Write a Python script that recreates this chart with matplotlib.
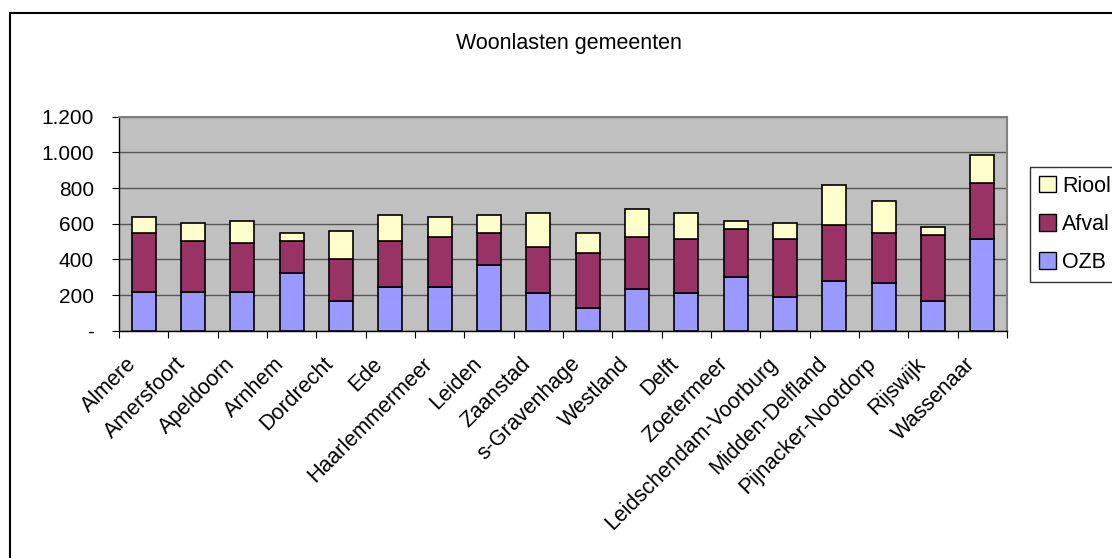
import matplotlib
matplotlib.use("Agg")
import matplotlib.pyplot as plt
from matplotlib.patches import Rectangle, Patch
from matplotlib.ticker import FixedLocator
from matplotlib.transforms import ScaledTranslation
import numpy as np

plt.rcParams['font.family'] = ['Liberation Sans', 'DejaVu Sans']

gemeenten = ["Almere", "Amersfoort", "Apeldoorn", "Arnhem", "Dordrecht", "Ede",
             "Haarlemmermeer", "Leiden", "Zaanstad", "s-Gravenhage", "Westland",
             "Delft", "Zoetermeer", "Leidschendam-Voorburg", "Midden-Delfland",
             "Pijnacker-Nootdorp", "Rijswijk", "Wassenaar"]
ozb = [219, 219, 219, 325, 167, 243, 243, 370, 210, 129, 232, 210, 299, 191, 279, 267, 167, 513]
afval = [331, 284, 271, 178, 233, 260, 284, 176, 261, 305, 295, 303, 270, 325, 314, 281, 368, 314]
riool = [89, 103, 127, 47, 159, 146, 112, 103, 187, 116, 156, 145, 46, 88, 224, 181, 47, 157]

y_ticks = [0, 200, 400, 600, 800, 1000, 1200]
y_labels = ["-", "200", "400", "600", "800", "1.000", "1.200"]
title = "Woonlasten gemeenten"

W, H = 1112, 558
fig = plt.figure(figsize=(W / 100, H / 100), dpi=100)
fig.patch.set_facecolor("white")

ax = fig.add_axes([119 / W, 1 - 330.7 / H, (1007 - 119) / W, (330.7 - 116.7) / H])
ax.set_facecolor("#C0C0C0")

x = np.arange(len(gemeenten))
bw = 0.48
ozb_a = np.array(ozb)
afv_a = np.array(afval)
rio_a = np.array(riool)
ax.bar(x, ozb_a, bw, color="#9999FF", edgecolor="black", linewidth=1.2, zorder=3, label="OZB")
ax.bar(x, afv_a, bw, bottom=ozb_a, color="#993366", edgecolor="black", linewidth=1.2, zorder=3, label="Afval")
ax.bar(x, rio_a, bw, bottom=ozb_a + afv_a, color="#FFFFCC", edgecolor="black", linewidth=1.2, zorder=3, label="Riool")

ax.set_xlim(-0.5, len(gemeenten) - 0.5)
ax.set_ylim(0, 1200)
ax.yaxis.set_major_locator(FixedLocator(y_ticks))
ax.set_yticklabels(y_labels, fontsize=15)
ax.grid(axis="y", color="#555555", linewidth=1, zorder=1)

ax.xaxis.set_major_locator(FixedLocator(np.arange(-0.5, len(gemeenten), 1.0)))
ax.set_xticklabels([])
ax.set_xticks(x, minor=True)
ax.set_xticklabels(gemeenten, minor=True, rotation=45, ha="right", rotation_mode="anchor", fontsize=15.5)
ax.tick_params(axis="x", which="minor", length=0, pad=12)
ax.tick_params(axis="x", which="major", length=5, direction="out", color="black")
ax.tick_params(axis="y", length=5, direction="out", pad=13)

offset = ScaledTranslation(-18 / 100, -6 / 100, fig.dpi_scale_trans)
for lbl in ax.get_xticklabels(minor=True):
    lbl.set_transform(lbl.get_transform() + offset)

for s in ["top", "right"]:
    ax.spines[s].set_color("#808080")
    ax.spines[s].set_linewidth(1.5)
for s in ["left", "bottom"]:
    ax.spines[s].set_color("black")
    ax.spines[s].set_linewidth(1)

fig.text(569 / W, 1 - 44 / H, title, ha="center", va="center", fontsize=15.5)

handles = [Patch(facecolor="#FFFFCC", edgecolor="black", label="Riool"),
           Patch(facecolor="#993366", edgecolor="black", label="Afval"),
           Patch(facecolor="#9999FF", edgecolor="black", label="OZB")]
leg = fig.legend(handles=handles, loc="upper left", bbox_to_anchor=(1030 / W, 1 - 167 / H),
                 fontsize=15.5, frameon=True, fancybox=False, edgecolor="black",
                 handlelength=0.8, handleheight=0.8, handletextpad=0.3,
                 labelspacing=0.8, borderpad=0.4, borderaxespad=0)
leg.get_frame().set_linewidth(1)

fig.patches.append(Rectangle((10 / W, -0.1), 1.2, (H - 13) / H + 0.1, transform=fig.transFigure,
                             fill=False, edgecolor="black", linewidth=1.5))

fig.savefig("out.png", dpi=100)
